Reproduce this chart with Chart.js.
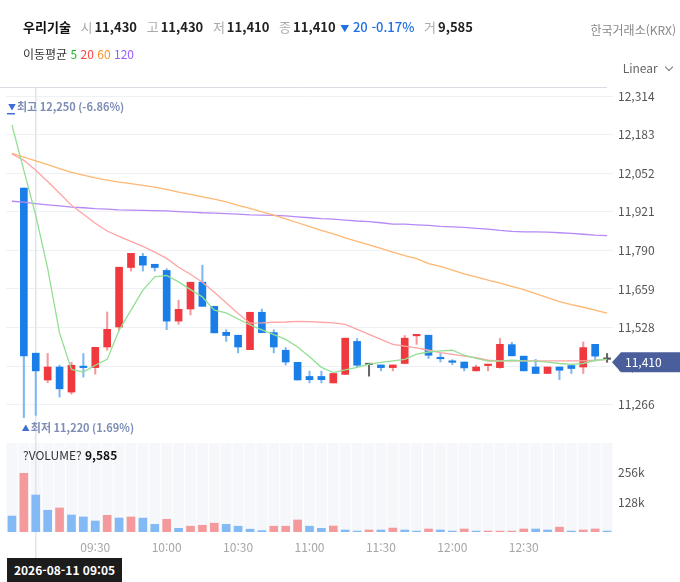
<!DOCTYPE html>
<html lang="ko">
<head>
<meta charset="utf-8">
<title>우리기술</title>
<script src="https://cdn.jsdelivr.net/npm/chart.js@4.4.1/dist/chart.umd.min.js"></script>
<style>
  body { margin: 0; background: #fff; font-family: "Noto Sans CJK KR", "Noto Sans", sans-serif; }
  #wrap { position: relative; width: 680px; height: 582px; overflow: hidden; }
  #chart { position: absolute; left: 0; top: 0; }
  .txt { position: absolute; white-space: nowrap; font-size: 12px; line-height: 18px; }
  .lbl { color: #aaa; font-weight: 400; margin-right: 2px; }
  .val { color: #222; font-weight: 700; margin-right: 6px; }
</style>
</head>
<body>
<div id="wrap">
  <canvas id="chart" width="680" height="582"></canvas>

  <div class="txt" style="left:23px;top:18px;font-size:13px;">
    <span style="color:#111;font-weight:700;margin-right:6px;">우리기술</span>
    <span class="lbl">시</span><span class="val">11,430</span>
    <span class="lbl">고</span><span class="val">11,430</span>
    <span class="lbl">저</span><span class="val">11,410</span>
    <span class="lbl">종</span><span class="val" style="margin-right:1px;">11,410</span>
    <span style="color:#1f6fe5;font-weight:500;margin-right:6px;"><span style="font-size:9px;">▼</span> 20 -0.17%</span>
    <span class="lbl">거</span><span class="val">9,585</span>
  </div>
  <div class="txt" style="left:23px;top:45px;color:#333;">
    이동평균 <span style="color:#22bb22">5</span> <span style="color:#ff4343">20</span>
    <span style="color:#ff9128">60</span> <span style="color:#9b5cff">120</span>
  </div>
  <div class="txt" style="right:4px;top:21px;color:#888;">한국거래소(KRX)</div>
  <div class="txt" style="right:8px;top:59px;color:#666;">Linear
    <span style="display:inline-block;width:5px;height:5px;border-right:1px solid #777;border-bottom:1px solid #777;transform:rotate(45deg);margin:0 0 3px 5px;"></span>
  </div>
  <div class="txt" style="left:23px;top:446px;color:#333;">?VOLUME? <b style="color:#111">9,585</b></div>
  <div class="txt" style="left:7px;top:558px;width:115px;height:24px;line-height:24px;background:#1c1c1c;color:#fff;font-weight:700;text-align:center;">2026-08-11 09:05</div>
</div>

<script>
// 1. DATA (5-minute candles, index 0 = 08:55)
const times = ['08:55','09:00','09:05','09:10','09:15','09:20','09:25','09:30','09:35','09:40',
  '09:45','09:50','09:55','10:00','10:05','10:10','10:15','10:20','10:25','10:30',
  '10:35','10:40','10:45','10:50','10:55','11:00','11:05','11:10','11:15','11:20',
  '11:25','11:30','11:35','11:40','11:45','11:50','11:55','12:00','12:05','12:10',
  '12:15','12:20','12:25','12:30','12:35','12:40','12:45','12:50','12:55','13:00','13:05'];
const shownTimes = ['09:30','10:00','10:30','11:00','11:30','12:00','12:30'];

const opens  = [null,12002,11441,11350,11394,11309,11394,11392,11462,11530,11732,11770,11743,11722,11550,11591,11682,11600,11512,11502,
  11453,11580,11511,11451,11410,11362,11362,11340,11369,11481,11402,11401,11392,11406,11500,11502,11424,11412,11411,11381,
  11399,11392,11470,11431,11394,11372,11394,11399,11394,11471,11420];
const highs  = [null,12002,11441,11440,11400,11410,11440,11461,11581,11733,11780,11780,11743,11728,11621,11682,11740,11600,11521,11502,
  11580,11591,11521,11460,11410,11380,11380,11372,11492,11491,11402,11401,11401,11501,11502,11502,11440,11419,11411,11400,
  11400,11491,11478,11431,11420,11394,11394,11399,11479,11471,11440];
const lows   = [null,11222,11230,11341,11292,11302,11360,11370,11451,11519,11720,11720,11720,11521,11539,11571,11600,11510,11481,11442,
  11453,11511,11442,11401,11350,11340,11340,11340,11369,11392,11363,11381,11381,11406,11471,11423,11411,11402,11381,11381,
  11381,11390,11432,11381,11372,11372,11351,11372,11372,11414,11410];
const closes = [null,11432,11381,11394,11320,11400,11392,11461,11522,11733,11780,11740,11732,11550,11590,11682,11600,11510,11501,11462,
  11580,11511,11462,11411,11350,11351,11351,11372,11492,11400,11402,11392,11401,11492,11502,11434,11422,11410,11391,11394,
  11400,11471,11432,11381,11372,11394,11383,11389,11460,11431,11420];

const ma5   = [12216,12062,11909,11729,11509,11386,11377,11400,11420,11519,11587,11655,11700,11705,11683,11657,11632,11587,11578,11557,
  11537,11520,11504,11488,11462,11429,11393,11375,11384,11393,11404,11410,11415,11420,11438,11445,11449,11451,11434,11423,
  11414,11414,11417,11415,11414,11411,11406,11403,11406,11417,11420];
const ma20  = [12118,12096,12062,12024,11984,11943,11913,11882,11856,11838,11821,11804,11784,11763,11733,11709,11682,11648,11612,11576,
  11543,11544,11546,11547,11549,11548,11546,11544,11539,11522,11505,11488,11471,11465,11459,11451,11443,11437,11431,11426,
  11417,11415,11415,11415,11415,11415,11415,11415,11415,11417,11420];
const ma60  = [12120,12107,12094,12081,12068,12055,12046,12036,12029,12022,12017,12011,12005,11997,11988,11980,11972,11964,11955,11943,
  11933,11921,11910,11897,11884,11871,11858,11846,11833,11821,11809,11797,11784,11772,11762,11745,11736,11723,11710,11700,
  11689,11679,11668,11657,11643,11630,11616,11606,11597,11587,11577];
const ma120 = [11957,11954,11949,11945,11941,11937,11935,11932,11930,11928,11927,11926,11925,11924,11922,11920,11918,11917,11915,11913,
  11911,11910,11909,11907,11904,11901,11898,11896,11893,11890,11888,11884,11879,11879,11877,11875,11872,11870,11868,11865,
  11862,11858,11855,11853,11853,11852,11850,11848,11845,11842,11840];

const volumes = [69000,254000,160000,94000,104000,73500,65000,47600,72000,60500,65000,60000,33000,55000,16000,25000,29000,38000,33000,25000,
  12000,6000,25000,25000,52000,25000,16000,26000,8600,4000,8600,8600,17000,8600,4000,13000,8600,4000,13000,4000,
  4000,4000,4000,13000,13000,8600,21000,4000,8600,13000,4000];
const volUp = [0,1,0,0,1,0,0,0,1,0,1,0,0,1,0,1,1,1,0,0,0,0,1,1,1,0,0,1,0,0,1,0,1,0,0,1,0,0,1,0,1,1,1,1,0,0,1,0,1,1,0];

const priceTicks = [12314,12183,12052,11921,11790,11659,11528,11397,11266];
const volTicks = [128000,256000];
const volTickLabels = ['128k','256k'];

const lastPrice = 11410;
const highMark = { idx: 0, price: 12250, text: '최고 12,250 (-6.86%)' };
const lowMark  = { idx: 1, price: 11220, text: '최저 11,220 (1.69%)' };
const crossIdx = 2;

// 2. COLOURS
const UP = '#f0393e', DOWN = '#1a7ee8', FLAT = '#555';
const UP_W = '#f4989b', DOWN_W = '#7fb7f2', FLAT_W = '#666';
const FONT = '"Noto Sans CJK KR", "Noto Sans", sans-serif';

const dir = opens.map((o, i) => o == null ? 0 : Math.sign(closes[i] - o));
const bodyData = opens.map((o, i) => o == null ? null : [Math.min(o, closes[i]), Math.max(o, closes[i])]);
const wickData = lows.map((l, i) => l == null ? null : [l, highs[i]]);
const bodyColors = dir.map(d => d > 0 ? UP : d < 0 ? DOWN : FLAT);
const wickColors = dir.map(d => d > 0 ? UP_W : d < 0 ? DOWN_W : FLAT_W);
const volColors = volUp.map(u => u ? '#f59a9c' : '#83b9f5');

// 3. DECORATION PLUGIN (volume bands, crosshair, markers, price tag)
const deco = {
  id: 'deco',
  beforeDatasetsDraw(chart) {
    const { ctx, chartArea, scales } = chart;
    const x = scales.x, yv = scales.yv;
    const slot = (chartArea.right - chartArea.left) / times.length;
    ctx.save();
    ctx.fillStyle = '#f5f7fb';
    times.forEach((t, i) => {
      const cx = x.getPixelForValue(i);
      ctx.fillRect(cx - slot / 2 + 0.5, yv.top, slot - 1, yv.bottom - yv.top);
    });
    // top border
    ctx.strokeStyle = '#d9dde3';
    ctx.lineWidth = 1;
    ctx.beginPath();
    ctx.moveTo(chartArea.left - 6, chartArea.top + 0.5);
    ctx.lineTo(chartArea.right - 6, chartArea.top + 0.5);
    ctx.stroke();
    // crosshair
    const cx = x.getPixelForValue(crossIdx);
    ctx.strokeStyle = '#e0e5ec';
    ctx.lineWidth = 1.5;
    ctx.beginPath();
    ctx.moveTo(cx, chartArea.top);
    ctx.lineTo(cx, 560);
    ctx.stroke();
    ctx.restore();
  },
  afterDatasetsDraw(chart) {
    const { ctx, scales } = chart;
    const x = scales.x, y = scales.y;
    ctx.save();
    ctx.textBaseline = 'middle';
    // high marker
    let hx = x.getPixelForValue(highMark.idx) - 4;
    let hy = y.getPixelForValue(highMark.price) - 8;
    ctx.fillStyle = '#3f6fd6';
    ctx.font = '8px ' + FONT;
    ctx.fillText('▼', hx, hy);
    ctx.fillRect(hx - 1, hy + 6, 8, 1.5);
    ctx.fillStyle = '#7d8db6';
    ctx.font = '600 11px ' + FONT;
    ctx.fillText(highMark.text, hx + 9, hy);
    // low marker
    let lx = x.getPixelForValue(lowMark.idx) - 2;
    let ly = y.getPixelForValue(lowMark.price) + 10;
    ctx.fillStyle = '#3f6fd6';
    ctx.font = '8px ' + FONT;
    ctx.fillText('▲', lx, ly);
    ctx.fillStyle = '#7d8db6';
    ctx.font = '600 11px ' + FONT;
    ctx.fillText(lowMark.text, lx + 9, ly);
    // last price tag
    const py = y.getPixelForValue(lastPrice);
    const left = chart.chartArea.right - 1;
    ctx.fillStyle = '#4b5e9c';
    ctx.beginPath();
    ctx.moveTo(left, py);
    ctx.lineTo(left + 9, py - 10);
    ctx.lineTo(680, py - 10);
    ctx.lineTo(680, py + 10);
    ctx.lineTo(left + 9, py + 10);
    ctx.closePath();
    ctx.fill();
    ctx.fillStyle = '#fff';
    ctx.font = '12px ' + FONT;
    ctx.fillText(lastPrice.toLocaleString('en-US'), left + 13, py + 0.5);
    ctx.restore();
  }
};

// 4. CHART
const maLine = (label, data, color) => ({
  type: 'line', label, data, yAxisID: 'y', borderColor: color, borderWidth: 1.3,
  pointRadius: 0, tension: 0, order: 1
});

new Chart(document.getElementById('chart').getContext('2d'), {
  type: 'bar',
  data: {
    labels: times,
    datasets: [
      maLine('MA5', ma5, '#93df93'),
      maLine('MA20', ma20, '#ffa4a4'),
      maLine('MA60', ma60, '#ffb772'),
      maLine('MA120', ma120, '#b68af6'),
      { label: 'body', data: bodyData, yAxisID: 'y', backgroundColor: bodyColors,
        barThickness: 7, minBarLength: 1.5, grouped: false, order: 3 },
      { label: 'wick', data: wickData, yAxisID: 'y', backgroundColor: wickColors,
        barThickness: 1.4, grouped: false, order: 4 },
      { label: 'volume', data: volumes, yAxisID: 'yv', backgroundColor: volColors,
        barThickness: 8, grouped: false, order: 5 }
    ]
  },
  options: {
    responsive: false,
    animation: false,
    layout: { padding: { left: 6, top: 87, right: 0, bottom: 0 } },
    plugins: { legend: { display: false }, tooltip: { enabled: false } },
    scales: {
      x: {
        offset: true,
        grid: { display: false },
        border: { display: false },
        ticks: {
          autoSkip: false, maxRotation: 0, padding: 0, color: '#a6a6a6',
          font: { size: 12, family: FONT },
          callback: (v, i) => shownTimes.includes(times[i]) ? times[i] : ''
        },
        afterFit: a => { a.height = 50; }
      },
      y: {
        type: 'linear', position: 'right', stack: 'main', stackWeight: 4,
        min: 11136, max: 12345,
        grid: { color: '#eef0f3', drawTicks: false },
        border: { display: false },
        afterBuildTicks: a => { a.ticks = priceTicks.map(v => ({ value: v })); },
        ticks: { color: '#555', padding: 5, font: { size: 12, family: FONT },
          callback: v => v.toLocaleString('en-US') },
        afterFit: a => { a.width = 67; }
      },
      yv: {
        type: 'linear', position: 'right', stack: 'main', stackWeight: 1,
        min: 0, max: 385000,
        grid: { display: false, drawTicks: false },
        border: { display: false },
        afterBuildTicks: a => { a.ticks = volTicks.map(v => ({ value: v })); },
        ticks: { color: '#555', padding: 5, font: { size: 12, family: FONT },
          callback: v => volTickLabels[volTicks.indexOf(v)] },
        afterFit: a => { a.width = 67; }
      }
    }
  },
  plugins: [deco]
});
</script>
</body>
</html>
